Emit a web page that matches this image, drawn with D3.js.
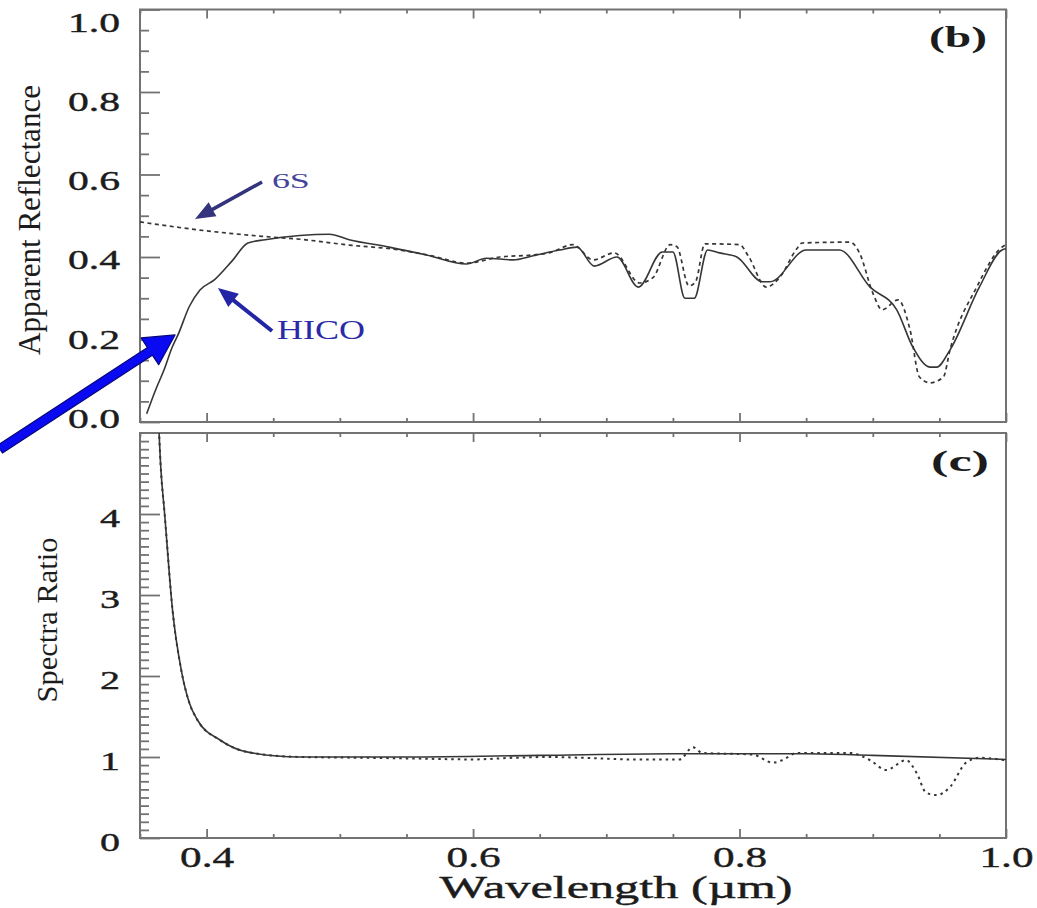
<!DOCTYPE html>
<html>
<head>
<meta charset="utf-8">
<script src="https://cdn.jsdelivr.net/npm/d3@7/dist/d3.min.js"></script>
<style>
  html, body { margin: 0; padding: 0; background: #fff; }
  svg { display: block; }
  text { font-family: "Liberation Serif", "Times New Roman", serif; }
</style>
</head>
<body>
<svg id="chart" width="1037" height="908"></svg>
<script>
// Panel (b): apparent reflectance, HICO measurement (solid) vs 6S model (dashed)
const hicoWl   = [0.355,0.362,0.368,0.374,0.379,0.387,0.395,0.406,0.419,0.431,0.444,0.470,0.492,0.507,0.537,0.565,0.595,0.610,0.630,0.645,0.665,0.678,0.691,0.708,0.724,0.742,0.750,0.759,0.766,0.776,0.785,0.798,0.817,0.823,0.850,0.875,0.898,0.918,0.930,0.943,0.948,0.958,0.980,0.997,1.000];
const hicoRefl = [0.020,0.080,0.126,0.180,0.215,0.280,0.320,0.345,0.390,0.434,0.442,0.452,0.455,0.442,0.424,0.405,0.383,0.397,0.393,0.403,0.417,0.424,0.378,0.400,0.327,0.412,0.412,0.300,0.300,0.417,0.410,0.400,0.340,0.340,0.417,0.417,0.327,0.272,0.182,0.133,0.133,0.175,0.327,0.417,0.420];

const sixsWl   = [0.350,0.393,0.442,0.470,0.507,0.545,0.570,0.595,0.620,0.645,0.657,0.675,0.690,0.706,0.725,0.735,0.748,0.753,0.762,0.767,0.774,0.800,0.807,0.820,0.830,0.843,0.847,0.883,0.890,0.900,0.907,0.919,0.928,0.935,0.943,0.953,0.958,0.978,0.997,1.000];
const sixsRefl = [0.485,0.466,0.450,0.443,0.429,0.417,0.402,0.385,0.400,0.405,0.410,0.430,0.393,0.410,0.337,0.350,0.430,0.425,0.330,0.340,0.432,0.430,0.400,0.327,0.350,0.420,0.434,0.436,0.410,0.313,0.272,0.296,0.223,0.109,0.095,0.109,0.175,0.327,0.424,0.430];

// Panel (c): spectra ratio, solid and dotted curves
const ratioWl   = [0.362,0.3655,0.3685,0.3745,0.381,0.387,0.393,0.410,0.431,0.470,0.550,0.650,0.750,0.850,0.900,1.000];
const ratioVal  = [6.0,4.6,4.0,2.8,2.07,1.67,1.46,1.21,1.06,1.00,1.00,1.02,1.04,1.04,1.02,0.97];

const ratio2Wl  = [0.362,0.3655,0.3685,0.3745,0.381,0.387,0.393,0.410,0.431,0.470,0.520,0.560,0.600,0.630,0.657,0.682,0.720,0.755,0.765,0.772,0.810,0.825,0.832,0.843,0.883,0.898,0.910,0.925,0.933,0.940,0.948,0.958,0.970,0.980,1.000];
const ratio2Val = [6.0,4.6,4.0,2.8,2.07,1.67,1.46,1.21,1.06,1.00,0.99,0.98,0.97,0.99,1.00,0.99,0.97,0.97,1.12,1.05,1.03,0.93,0.96,1.05,1.05,0.96,0.84,0.96,0.80,0.56,0.53,0.63,0.93,0.99,0.96];

// Axis ticks and labels
const xMajor      = [0.4,0.6,0.8,1.0];
const xMinor      = [0.35,0.45,0.5,0.55,0.65,0.7,0.75,0.85,0.9,0.95];
const reflMajor   = [0.0,0.2,0.4,0.6,0.8,1.0];
const reflMinor   = d3.range(0,21).map(i => i*0.05).filter(v => Math.abs(v*5 - Math.round(v*5)) > 1e-6);
const ratioMajor  = [0,1,2,3,4];
const ratioMinor  = d3.range(1,50).map(i => i/10).filter(v => Math.abs(v - Math.round(v)) > 1e-6);
const xLabels     = ["0.4","0.6","0.8","1.0"];
const reflLabels  = ["0.0","0.2","0.4","0.6","0.8","1.0"];
const ratioLabels = ["0","1","2","3","4"];

// Annotations (wavelength, reflectance)
const arrow6S    = [[0.4416,0.582],[0.3913,0.492]];
const arrowHICO  = [[0.4491,0.2206],[0.4085,0.325]];
const arrowBig   = [[0.2449,-0.066],[0.3763,0.211]];
const label6S    = [0.449,0.567];
const labelHICO  = [0.4528,0.201];

const svg = d3.select("#chart");
const frameColor = "#727272";
const lineColor = "#363636";
const textColor = "#1c1c1c";

const x = d3.scaleLinear().domain([0.35,1.0]).range([140,1006]);
const yRefl = d3.scaleLinear().domain([0,1]).range([422,9.5]);
const yRatio = d3.scaleLinear().domain([0,5]).range([838,433]);

const defs = svg.append("defs");
defs.append("clipPath").attr("id","clipB").append("rect")
  .attr("x",x(0.35)).attr("y",yRefl(1)).attr("width",x(1)-x(0.35)).attr("height",yRefl(0)-yRefl(1));
defs.append("clipPath").attr("id","clipC").append("rect")
  .attr("x",x(0.35)).attr("y",yRatio(5)).attr("width",x(1)-x(0.35)).attr("height",yRatio(0)-yRatio(5));

function styleAxis(g) {
  g.select(".domain").remove();
  g.selectAll(".tick line").attr("stroke",frameColor).attr("stroke-width",1.8);
}

function styleLabels(sel, size, len) {
  sel.attr("font-size",size).attr("fill",textColor)
    .attr("stroke",textColor).attr("stroke-width",0.4)
    .attr("textLength",len).attr("lengthAdjust","spacingAndGlyphs")
    .style("font-family","'Liberation Serif', serif");
}

function drawPanel(y, yMaj, yMin, yLabs, labelLen, labelFont, labelShift) {
  const top = y.range()[1], bottom = y.range()[0];
  // left axis with labels
  const gl = svg.append("g").attr("transform",`translate(${x(0.35)},0)`)
    .call(d3.axisLeft(y).tickValues(yMaj).tickSizeInner(-20).tickSizeOuter(0).tickPadding(20)
      .tickFormat((d,i) => yLabs[i]));
  styleAxis(gl);
  styleLabels(gl.selectAll(".tick text").attr("dy",null).attr("y",labelShift), labelFont, labelLen);
  const glm = svg.append("g").attr("transform",`translate(${x(0.35)},0)`)
    .call(d3.axisLeft(y).tickValues(yMin).tickSizeInner(-9).tickSizeOuter(0).tickFormat(""));
  styleAxis(glm);
  // top and bottom x ticks, pointing inward
  [[d3.axisTop, top],[d3.axisBottom, bottom]].forEach(([ax, yy]) => {
    const ga = svg.append("g").attr("transform",`translate(0,${yy})`)
      .call(ax(x).tickValues(xMajor).tickSizeInner(-9).tickSizeOuter(0).tickFormat(""));
    styleAxis(ga);
    const gm = svg.append("g").attr("transform",`translate(0,${yy})`)
      .call(ax(x).tickValues(xMinor).tickSizeInner(-4).tickSizeOuter(0).tickFormat(""));
    styleAxis(gm);
  });
  // frame
  svg.append("rect").attr("x",x(0.35)).attr("y",top)
    .attr("width",x(1)-x(0.35)).attr("height",bottom-top)
    .attr("fill","none").attr("stroke",frameColor).attr("stroke-width",2);
}

// reflectance labels sit a little lower near the top of the axis
drawPanel(yRefl, reflMajor, reflMinor, reflLabels, 52, 27, d => 5.5 + 16 * d);
drawPanel(yRatio, ratioMajor, ratioMinor, ratioLabels, 20, 26, 12.5);

// bottom wavelength labels
const gx = svg.append("g").attr("transform",`translate(0,${yRatio(0)})`)
  .call(d3.axisBottom(x).tickValues(xMajor).tickSize(0).tickPadding(0).tickFormat((d,i) => xLabels[i]));
gx.select(".domain").remove();
styleLabels(gx.selectAll(".tick text").attr("dy",null).attr("y",29), 29, 54);

// axis titles
styleLabels(svg.append("text").attr("x",616).attr("y",898).attr("text-anchor","middle")
  .text("Wavelength (µm)"), 31, 353);
svg.append("text").attr("transform","translate(40,220) rotate(-90)").attr("text-anchor","middle")
  .attr("font-size",31).attr("fill",textColor)
  .attr("textLength",270).attr("lengthAdjust","spacingAndGlyphs")
  .text("Apparent Reflectance");
svg.append("text").attr("transform","translate(57,620) rotate(-90)").attr("text-anchor","middle")
  .attr("font-size",29).attr("fill",textColor)
  .attr("textLength",165).attr("lengthAdjust","spacingAndGlyphs")
  .text("Spectra Ratio");

// panel tags
svg.append("text").attr("x",958).attr("y",47).attr("text-anchor","middle")
  .attr("font-size",30).attr("font-weight","bold").attr("fill",textColor)
  .attr("textLength",58).attr("lengthAdjust","spacingAndGlyphs").text("(b)");
svg.append("text").attr("x",960).attr("y",471).attr("text-anchor","middle")
  .attr("font-size",30).attr("font-weight","bold").attr("fill",textColor)
  .attr("textLength",58).attr("lengthAdjust","spacingAndGlyphs").text("(c)");

// spectra lines
function drawLine(wl, val, y, clipId, dash, width) {
  const pts = wl.map((w,i) => [w, val[i]]);
  svg.append("path").datum(pts)
    .attr("clip-path",`url(#${clipId})`)
    .attr("d", d3.line().curve(d3.curveMonotoneX).x(d => x(d[0])).y(d => y(d[1])))
    .attr("fill","none").attr("stroke",lineColor)
    .attr("stroke-width",width)
    .attr("stroke-dasharray",dash)
    .attr("stroke-linejoin","round");
}
drawLine(sixsWl, sixsRefl, yRefl, "clipB", "4,3.5", 1.7);
drawLine(hicoWl, hicoRefl, yRefl, "clipB", null, 1.6);
drawLine(ratio2Wl, ratio2Val, yRatio, "clipC", "2.5,4", 2.0);
drawLine(ratioWl, ratioVal, yRatio, "clipC", null, 1.6);

// arrows
function arrowPath(p0, p1, shaftW, headL, headW) {
  const [ax, ay] = [x(p0[0]), yRefl(p0[1])];
  const [bx, by] = [x(p1[0]), yRefl(p1[1])];
  const dx = bx-ax, dy = by-ay, L = Math.hypot(dx,dy);
  const ux = dx/L, uy = dy/L, nx = -uy, ny = ux;
  const hx = bx - ux*headL, hy = by - uy*headL;
  const s = shaftW/2, h = headW/2;
  const p = [
    [ax+nx*s, ay+ny*s], [hx+nx*s, hy+ny*s], [hx+nx*h, hy+ny*h], [bx, by],
    [hx-nx*h, hy-ny*h], [hx-nx*s, hy-ny*s], [ax-nx*s, ay-ny*s]
  ];
  return "M" + p.map(q => q.join(",")).join("L") + "Z";
}
svg.append("path").attr("d",arrowPath(arrow6S[0],arrow6S[1],3.5,20,16))
  .attr("fill","#33337e");
svg.append("path").attr("d",arrowPath(arrowHICO[0],arrowHICO[1],4,20,17))
  .attr("fill","#2424a6");
svg.append("path").attr("d",arrowPath(arrowBig[0],arrowBig[1],9,30,32))
  .attr("fill","#0a0af2").attr("stroke","#06067a").attr("stroke-width",1.2)
  .attr("stroke-linejoin","round");

svg.append("text").attr("x",x(label6S[0])).attr("y",yRefl(label6S[1]))
  .attr("font-size",20).attr("fill","#44449a")
  .attr("textLength",38).attr("lengthAdjust","spacingAndGlyphs").text("6S");
svg.append("text").attr("x",x(labelHICO[0])).attr("y",yRefl(labelHICO[1]))
  .attr("font-size",28).attr("fill","#2a2aa8")
  .attr("textLength",88).attr("lengthAdjust","spacingAndGlyphs").text("HICO");
</script>
</body>
</html>
